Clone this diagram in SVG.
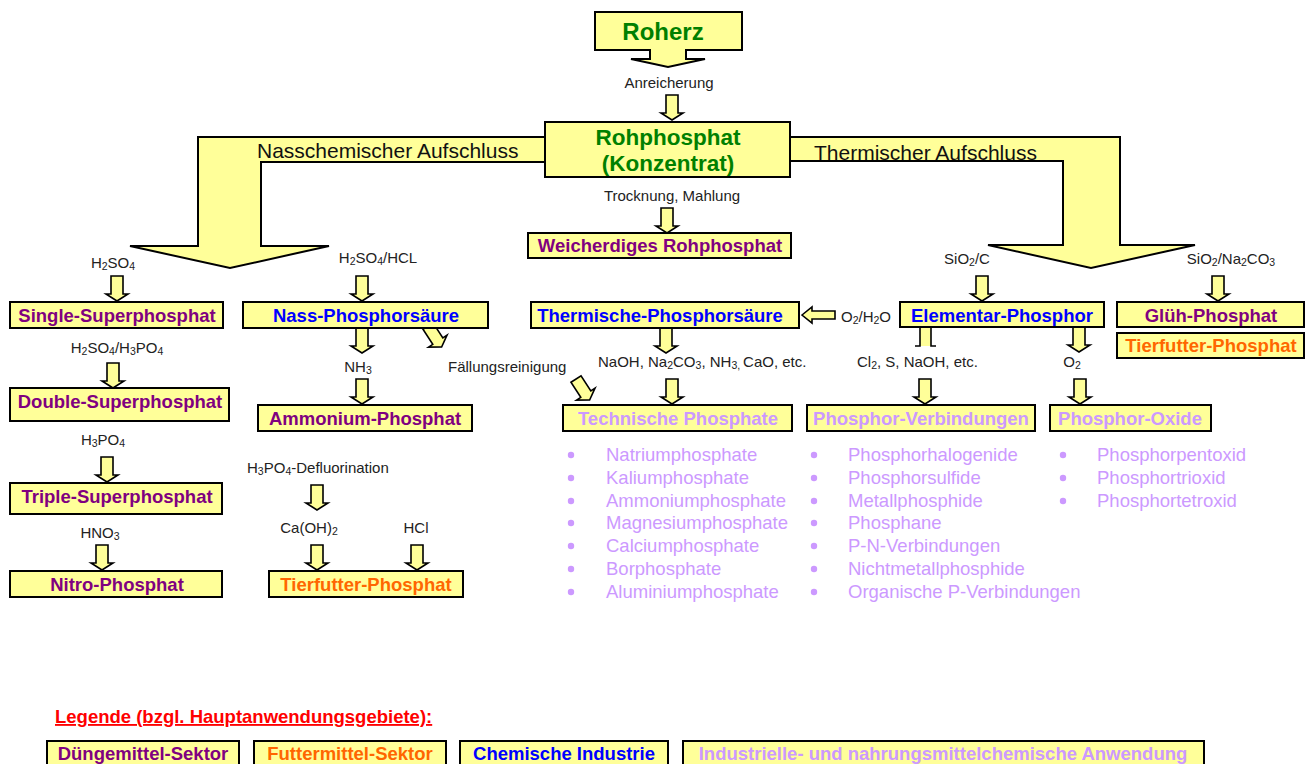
<svg xmlns="http://www.w3.org/2000/svg" xmlns:xlink="http://www.w3.org/1999/xlink" width="1311" height="764" viewBox="0 0 1311 764">
<style>
text{font-family:"Liberation Sans",Arial,sans-serif}
.box{fill:#FFFF99;stroke:#000;stroke-width:2}
.arr{fill:#FFFF99;stroke:#000;stroke-width:2;stroke-linejoin:miter}
.sa{fill:#FFFF99;stroke:#000;stroke-width:1.6}
.t{font-weight:bold;font-size:18.5px;text-anchor:middle}
.big{font-weight:bold;font-size:24px;text-anchor:middle;fill:#008000}
.big2{font-weight:bold;font-size:22.5px;text-anchor:middle;fill:#008000}
.lb{font-size:15px;fill:#222}
.c{text-anchor:middle}
.flow{font-size:21px;fill:#111}
.s{font-size:10.5px;baseline-shift:-1.5px}
.li{font-size:18.5px;fill:#CC99FF}
.pu{fill:#800080}.bl{fill:#0000FF}.or{fill:#FF6600}.lv{fill:#CC99FF}
.dot{fill:#CC99FF}
</style>
<defs>
<path id="sa" class="sa" d="M-6,0 H6 V18 H11 L0,25 L-11,18 H-6 Z"/>
</defs>

<g id="connectors">
<path class="arr" d="M548,137 H198 V246 H130 L230,268 L329,246 H261 V162 H548"/>
<path class="arr" d="M787,137 H1120 V245 H1195 L1091,268 L988,245 H1063 V161 H787"/>
<text class="flow" x="257" y="158">Nasschemischer Aufschluss</text>
<text class="flow" x="814" y="160">Thermischer Aufschluss</text>
<use xlink:href="#sa" x="672" y="95"/>
<use xlink:href="#sa" x="667" y="208"/>
<use xlink:href="#sa" x="117" y="276"/>
<use xlink:href="#sa" x="362" y="276"/>
<use xlink:href="#sa" x="982" y="276"/>
<use xlink:href="#sa" x="1218" y="276"/>
<use xlink:href="#sa" x="113" y="363"/>
<use xlink:href="#sa" x="362" y="328"/>
<use xlink:href="#sa" x="362" y="379"/>
<use xlink:href="#sa" x="107" y="457"/>
<use xlink:href="#sa" x="102" y="545"/>
<use xlink:href="#sa" x="317" y="485"/>
<use xlink:href="#sa" x="317" y="545"/>
<use xlink:href="#sa" x="417" y="545"/>
<use xlink:href="#sa" x="666" y="328"/>
<use xlink:href="#sa" x="672" y="379"/>
<use xlink:href="#sa" x="1079" y="327"/>
<use xlink:href="#sa" x="1080" y="379"/>
<use xlink:href="#sa" x="925" y="379"/>
<use xlink:href="#sa" transform="translate(428,326) rotate(-33)"/>
<use xlink:href="#sa" transform="translate(576,379) rotate(-33)"/>
<rect x="920" y="327" width="11" height="19" fill="#FFFF99"/>
<path d="M915,346 H920 V327 M931,327 V346 H936" fill="none" stroke="#000" stroke-width="1.6"/>
<path class="sa" d="M802,315 L812,307 V311 H835 V319 H812 V323 Z"/>

<text class="lb c" x="669" y="88">Anreicherung</text>
<text class="lb c" x="672" y="201">Trocknung, Mahlung</text>
<text class="lb c" x="113" y="268">H<tspan class="s">2</tspan>SO<tspan class="s">4</tspan></text>
<text class="lb c" x="378" y="263">H<tspan class="s">2</tspan>SO<tspan class="s">4</tspan>/HCL</text>
<text class="lb c" x="967" y="264">SiO<tspan class="s">2</tspan>/C</text>
<text class="lb c" x="1231" y="264">SiO<tspan class="s">2</tspan>/Na<tspan class="s">2</tspan>CO<tspan class="s">3</tspan></text>
<text class="lb c" x="117" y="353">H<tspan class="s">2</tspan>SO<tspan class="s">4</tspan>/H<tspan class="s">3</tspan>PO<tspan class="s">4</tspan></text>
<text class="lb c" x="358" y="372">NH<tspan class="s">3</tspan></text>
<text class="lb" x="448" y="372">Fällungsreinigung</text>
<text class="lb" x="598" y="367">NaOH, Na<tspan class="s">2</tspan>CO<tspan class="s">3</tspan>, NH<tspan class="s">3, </tspan>CaO, etc.</text>
<text class="lb" x="857" y="367">Cl<tspan class="s">2</tspan>, S, NaOH, etc.</text>
<text class="lb c" x="1072" y="367">O<tspan class="s">2</tspan></text>
<text class="lb" x="841" y="322">O<tspan class="s">2</tspan>/H<tspan class="s">2</tspan>O</text>
<text class="lb c" x="103" y="445">H<tspan class="s">3</tspan>PO<tspan class="s">4</tspan></text>
<text class="lb c" x="100" y="538">HNO<tspan class="s">3</tspan></text>
<text class="lb" x="247" y="473">H<tspan class="s">3</tspan>PO<tspan class="s">4</tspan>-Defluorination</text>
<text class="lb c" x="309" y="533">Ca(OH)<tspan class="s">2</tspan></text>
<text class="lb c" x="416" y="533">HCl</text>
</g>

<g id="n-roherz">
<path class="box" d="M595,12 H742 V50 H686 V59 H705 L668,67 L631,59 H650 V50 H595 Z"/>
<text class="big" x="663" y="40">Roherz</text>
</g>
<g id="n-rohphosphat">
<rect class="box" x="545" y="122" width="245" height="55"/>
<text class="big2" x="668" y="145">Rohphosphat</text>
<text class="big2" x="668" y="171">(Konzentrat)</text>
</g>
<g id="n-weicherdiges">
<rect class="box" x="528" y="233" width="263" height="25"/>
<text class="t pu" x="660" y="252">Weicherdiges Rohphosphat</text>
</g>
<g id="n-single">
<rect class="box" x="10" y="302" width="213" height="26"/>
<text class="t pu" x="117" y="322">Single-Superphosphat</text>
</g>
<g id="n-double">
<rect class="box" x="10" y="388" width="219" height="33"/>
<text class="t pu" x="120" y="408">Double-Superphosphat</text>
</g>
<g id="n-triple">
<rect class="box" x="10" y="483" width="212" height="31"/>
<text class="t pu" x="117" y="503">Triple-Superphosphat</text>
</g>
<g id="n-nitro">
<rect class="box" x="10" y="571" width="212" height="26"/>
<text class="t pu" x="117" y="591">Nitro-Phosphat</text>
</g>
<g id="n-nass">
<rect class="box" x="243" y="302" width="245" height="26"/>
<text class="t bl" x="366" y="322">Nass-Phosphorsäure</text>
</g>
<g id="n-ammonium">
<rect class="box" x="258" y="405" width="214" height="26"/>
<text class="t pu" x="365" y="425">Ammonium-Phosphat</text>
</g>
<g id="n-tierfutter1">
<rect class="box" x="269" y="571" width="194" height="26"/>
<text class="t or" x="366" y="591">Tierfutter-Phosphat</text>
</g>
<g id="n-thermische">
<rect class="box" x="531" y="302" width="268" height="26"/>
<text class="t bl" x="660" y="322">Thermische-Phosphorsäure</text>
</g>
<g id="n-elementar">
<rect class="box" x="900" y="302" width="204" height="25"/>
<text class="t bl" x="1002" y="322">Elementar-Phosphor</text>
</g>
<g id="n-glueh">
<rect class="box" x="1117" y="302" width="187" height="25"/>
<text class="t pu" x="1211" y="322">Glüh-Phosphat</text>
</g>
<g id="n-tierfutter2">
<rect class="box" x="1117" y="333" width="187" height="25"/>
<text class="t or" x="1211" y="352">Tierfutter-Phosphat</text>
</g>
<g id="n-technische">
<rect class="box" x="563" y="405" width="229" height="26"/>
<text class="t lv" x="678" y="425">Technische Phosphate</text>
<g class="dot">
<circle cx="571" cy="455" r="3.2"/><circle cx="571" cy="478" r="3.2"/><circle cx="571" cy="501" r="3.2"/><circle cx="571" cy="523" r="3.2"/><circle cx="571" cy="546" r="3.2"/><circle cx="571" cy="569" r="3.2"/><circle cx="571" cy="592" r="3.2"/>
</g>
<text class="li" x="606" y="461">Natriumphosphate</text>
<text class="li" x="606" y="484">Kaliumphosphate</text>
<text class="li" x="606" y="507">Ammoniumphosphate</text>
<text class="li" x="606" y="529">Magnesiumphosphate</text>
<text class="li" x="606" y="552">Calciumphosphate</text>
<text class="li" x="606" y="575">Borphosphate</text>
<text class="li" x="606" y="598">Aluminiumphosphate</text>
</g>
<g id="n-verbindungen">
<rect class="box" x="807" y="405" width="228" height="26"/>
<text class="t lv" x="921" y="425">Phosphor-Verbindungen</text>
<g class="dot">
<circle cx="814" cy="455" r="3.2"/><circle cx="814" cy="478" r="3.2"/><circle cx="814" cy="501" r="3.2"/><circle cx="814" cy="523" r="3.2"/><circle cx="814" cy="546" r="3.2"/><circle cx="814" cy="569" r="3.2"/><circle cx="814" cy="592" r="3.2"/>
</g>
<text class="li" x="848" y="461">Phosphorhalogenide</text>
<text class="li" x="848" y="484">Phosphorsulfide</text>
<text class="li" x="848" y="507">Metallphosphide</text>
<text class="li" x="848" y="529">Phosphane</text>
<text class="li" x="848" y="552">P-N-Verbindungen</text>
<text class="li" x="848" y="575">Nichtmetallphosphide</text>
<text class="li" x="848" y="598">Organische P-Verbindungen</text>
</g>
<g id="n-oxide">
<rect class="box" x="1050" y="405" width="161" height="26"/>
<text class="t lv" x="1130" y="425">Phosphor-Oxide</text>
<g class="dot">
<circle cx="1063" cy="455" r="3.2"/><circle cx="1063" cy="478" r="3.2"/><circle cx="1063" cy="501" r="3.2"/>
</g>
<text class="li" x="1097" y="461">Phosphorpentoxid</text>
<text class="li" x="1097" y="484">Phosphortrioxid</text>
<text class="li" x="1097" y="507">Phosphortetroxid</text>
</g>

<g id="legend">
<text x="55" y="723" font-weight="bold" font-size="18.5" fill="#FF0000" text-decoration="underline">Legende (bzgl. Hauptanwendungsgebiete):</text>
<rect class="box" x="47" y="741" width="192" height="30" stroke-width="2.5"/>
<text class="t pu" x="143" y="760">Düngemittel-Sektor</text>
<rect class="box" x="254" y="741" width="192" height="30" stroke-width="2.5"/>
<text class="t or" x="350" y="760">Futtermittel-Sektor</text>
<rect class="box" x="460" y="741" width="208" height="30" stroke-width="2.5"/>
<text class="t bl" x="564" y="760">Chemische Industrie</text>
<rect class="box" x="683" y="741" width="521" height="30" stroke-width="2.5"/>
<text class="t lv" x="943" y="760">Industrielle- und nahrungsmittelchemische Anwendung</text>
</g>
</svg>
